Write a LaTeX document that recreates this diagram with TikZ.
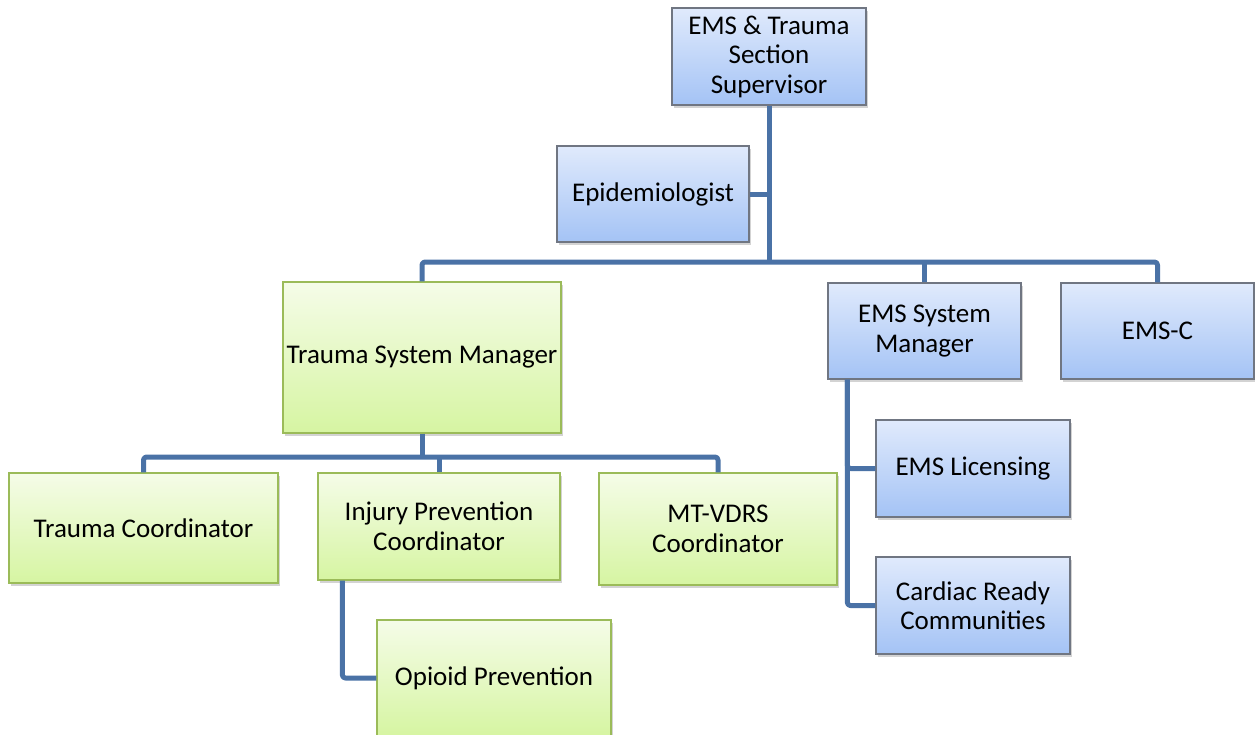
\documentclass[tikz,border=0pt]{standalone}
\usepackage{fontspec}
\setmainfont{Carlito}
\usetikzlibrary{shadows}
\definecolor{bluetop}{RGB}{224,234,252}
\definecolor{bluebot}{RGB}{164,195,245}
\definecolor{blueedge}{RGB}{112,118,130}
\definecolor{greentop}{RGB}{245,252,232}
\definecolor{greenbot}{RGB}{214,245,162}
\definecolor{greenedge}{RGB}{155,187,89}
\definecolor{connc}{RGB}{74,114,166}
\tikzset{
  box/.style={rectangle, inner sep=0pt, align=center, line width=1.3pt,
    font=\fontsize{27}{29.5}\selectfont,
    drop shadow={opacity=0.35, shadow xshift=2pt, shadow yshift=-3pt}},
  bluebox/.style={box, draw=blueedge, top color=bluetop, bottom color=bluebot},
  greenbox/.style={box, draw=greenedge, top color=greentop, bottom color=greenbot},
  conn/.style={draw=connc, line width=5pt, rounded corners=3pt, line join=round}
}
\begin{document}
\begin{tikzpicture}[x=1pt,y=-1pt]
\useasboundingbox (0,0) rectangle (1255,734);
\clip (0,0) rectangle (1255,734);
% nodes
\node[bluebox, minimum width=194, minimum height=97] (sup) at (769,56.5) {EMS \& Trauma\\Section\\Supervisor};
\node[bluebox, minimum width=192, minimum height=96] (epi) at (653,194) {Epidemiologist};
\node[greenbox, minimum width=278, minimum height=151] (tsm) at (422,357.5) {Trauma System Manager};
\node[bluebox, minimum width=193, minimum height=96] (esm) at (924.5,331) {EMS System\\Manager};
\node[bluebox, minimum width=193, minimum height=96] (emsc) at (1157.5,331) {EMS-C};
\node[greenbox, minimum width=269, minimum height=110] (tc) at (143.5,528) {Trauma Coordinator};
\node[greenbox, minimum width=242, minimum height=107] (ipc) at (439,526.5) {Injury Prevention\\Coordinator};
\node[greenbox, minimum width=238, minimum height=112] (mtv) at (718,529) {MT-VDRS\\Coordinator};
\node[bluebox, minimum width=194, minimum height=97] (lic) at (973,468.5) {EMS Licensing};
\node[bluebox, minimum width=194, minimum height=97] (cr) at (973,605.5) {Cardiac Ready\\Communities};
\node[greenbox, minimum width=234, minimum height=116] (op) at (494,678) {Opioid Prevention};
% helper coordinates
\coordinate (b1) at (769,262);
\coordinate (b2) at (422,457);
\coordinate (ipl) at ([xshift=25pt]ipc.south west);
\coordinate (esl) at ([xshift=20pt]esm.south west);
% connectors
\draw[conn] (sup.south) -- (b1);
\draw[conn] (epi.east) -- (epi.east -| sup.south);
\draw[conn] (tsm.north) -- (tsm.north |- b1) -- (emsc.north |- b1) -- (emsc.north);
\draw[conn] (esm.north) -- (esm.north |- b1);
\draw[conn] (tsm.south) -- (b2);
\draw[conn] (tc.north) -- (tc.north |- b2) -- (mtv.north |- b2) -- (mtv.north);
\draw[conn] (ipc.north) -- (ipc.north |- b2);
\draw[conn] (ipl) |- (op.west);
\draw[conn] (esl) |- (lic.west);
\draw[conn] (esl) |- (cr.west);
\end{tikzpicture}
\end{document}
